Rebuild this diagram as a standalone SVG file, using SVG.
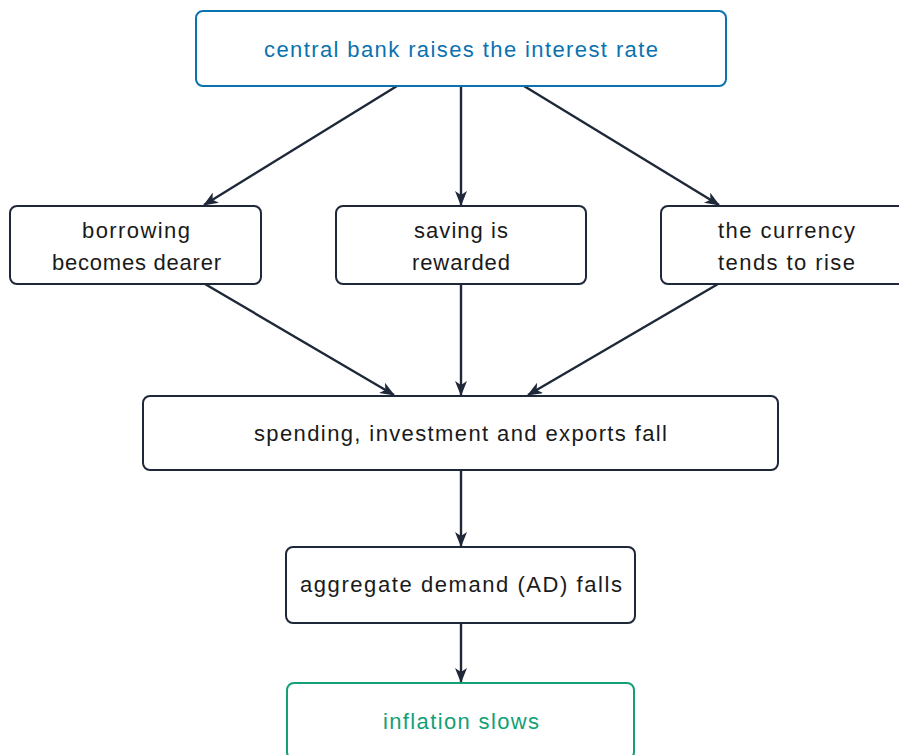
<svg xmlns="http://www.w3.org/2000/svg" width="899" height="755" viewBox="0 0 899 755">
<defs>
<marker id="ah" viewBox="0 0 15 12" refX="14" refY="6" markerWidth="15" markerHeight="12" markerUnits="userSpaceOnUse" orient="auto">
<path d="M0,0 L15,6 L0,12 L4,6 Z" fill="#1e2838"/>
</marker>
</defs>
<style>
.box{fill:#fff;stroke:#1e2838;stroke-width:2}
.blue{stroke:#0b72b0}
.green{stroke:#13a077}
text{font-family:"Liberation Sans",Arial,sans-serif;font-size:22px;fill:#1a1a1a;text-anchor:middle;dominant-baseline:central}
.tb{fill:#0b72b0}
.tg{fill:#13a077}
.edge{stroke:#1e2838;stroke-width:2.4;fill:none;marker-end:url(#ah)}
</style>
<rect width="899" height="755" fill="#fff"/>
<g id="connectors">
<line class="edge" x1="397" y1="86" x2="204" y2="205"/>
<line class="edge" x1="461" y1="86" x2="461" y2="205"/>
<line class="edge" x1="524" y1="86" x2="719" y2="205"/>
<line class="edge" x1="205" y1="284" x2="394" y2="395"/>
<line class="edge" x1="461" y1="284" x2="461" y2="395"/>
<line class="edge" x1="718" y1="284" x2="528" y2="395"/>
<line class="edge" x1="461" y1="470" x2="461" y2="546"/>
<line class="edge" x1="461" y1="623" x2="461" y2="682"/>
</g>
<g id="n-top"><rect class="box blue" x="196" y="11" width="530" height="75" rx="7"/><text class="tb" x="461" y="49" textLength="394" lengthAdjust="spacing">central bank raises the interest rate</text></g>
<g id="n-borrow"><rect class="box" x="10" y="206" width="251" height="78" rx="7"/><text x="136" y="230" textLength="108" lengthAdjust="spacing">borrowing</text><text x="136.5" y="262" textLength="169" lengthAdjust="spacing">becomes dearer</text></g>
<g id="n-saving"><rect class="box" x="336" y="206" width="250" height="78" rx="7"/><text x="461" y="230" textLength="94" lengthAdjust="spacing">saving is</text><text x="461" y="262" textLength="98" lengthAdjust="spacing">rewarded</text></g>
<g id="n-currency"><rect class="box" x="661" y="206" width="250" height="78" rx="7"/><text x="786.5" y="230" textLength="137" lengthAdjust="spacing">the currency</text><text x="786.5" y="262" textLength="137" lengthAdjust="spacing">tends to rise</text></g>
<g id="n-spending"><rect class="box" x="143" y="396" width="635" height="74" rx="7"/><text x="460.5" y="433" textLength="413" lengthAdjust="spacing">spending, investment and exports fall</text></g>
<g id="n-ad"><rect class="box" x="286" y="547" width="349" height="76" rx="7"/><text x="461" y="584" textLength="322" lengthAdjust="spacing">aggregate demand (AD) falls</text></g>
<g id="n-inflation"><rect class="box green" x="287" y="683" width="347" height="76" rx="7"/><text class="tg" x="461" y="721" textLength="156" lengthAdjust="spacing">inflation slows</text></g>
</svg>
